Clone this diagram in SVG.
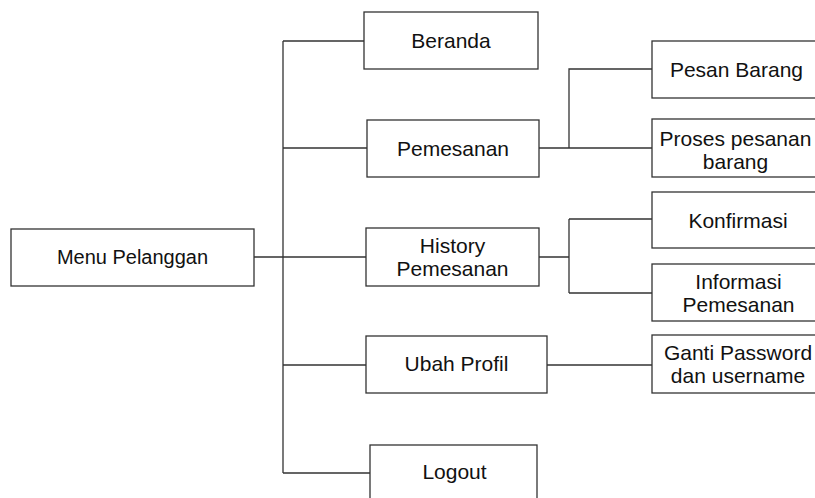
<svg xmlns="http://www.w3.org/2000/svg" width="815" height="498" viewBox="0 0 815 498">
<style>
.box{fill:#fff;stroke:#333;stroke-width:1.3}
.ln{fill:none;stroke:#333;stroke-width:1.3}
text{font-family:"Liberation Sans",Arial,sans-serif;font-size:21px;fill:#111;text-anchor:middle}
</style>
<rect width="815" height="498" fill="#fff"/>
<g id="connectors">
<path class="ln" d="M254,257 H283 M283,41 V473 M283,41 H364 M283,148 H367 M283,257 H366 M283,365 H366 M283,473 H370"/>
<path class="ln" d="M539,148 H652 M569,148 V69 H652"/>
<path class="ln" d="M539,257 H569 M569,219 V293 M569,219 H652 M569,293 H652"/>
<path class="ln" d="M547,365 H652"/>
</g>
<g id="menu-pelanggan"><rect class="box" x="11" y="229" width="243" height="57"/><text x="132.5" y="264" style="font-size:20px">Menu Pelanggan</text></g>
<g id="beranda"><rect class="box" x="364" y="12" width="174" height="57"/><text x="451" y="47.5">Beranda</text></g>
<g id="pemesanan"><rect class="box" x="367" y="120" width="172" height="57"/><text x="453" y="155.5">Pemesanan</text></g>
<g id="history"><rect class="box" x="366" y="228" width="173" height="58"/><text x="452.5" y="253">History</text><text x="452.5" y="276">Pemesanan</text></g>
<g id="ubah-profil"><rect class="box" x="366" y="336" width="181" height="57"/><text x="456.5" y="371">Ubah Profil</text></g>
<g id="logout"><rect class="box" x="370" y="445" width="167" height="60"/><text x="454.5" y="479">Logout</text></g>
<g id="pesan-barang"><rect class="box" x="652" y="41" width="170" height="57"/><text x="736.5" y="76.5">Pesan Barang</text></g>
<g id="proses-pesanan"><rect class="box" x="652" y="119" width="170" height="58"/><text x="735.5" y="145.5">Proses pesanan</text><text x="735.5" y="168.5">barang</text></g>
<g id="konfirmasi"><rect class="box" x="652" y="192" width="170" height="56"/><text x="738" y="227.5">Konfirmasi</text></g>
<g id="informasi"><rect class="box" x="652" y="264" width="170" height="57"/><text x="738.5" y="288.5">Informasi</text><text x="738.5" y="311.5">Pemesanan</text></g>
<g id="ganti-password"><rect class="box" x="652" y="335" width="170" height="58"/><text x="738" y="360">Ganti Password</text><text x="738" y="383">dan username</text></g>
</svg>
